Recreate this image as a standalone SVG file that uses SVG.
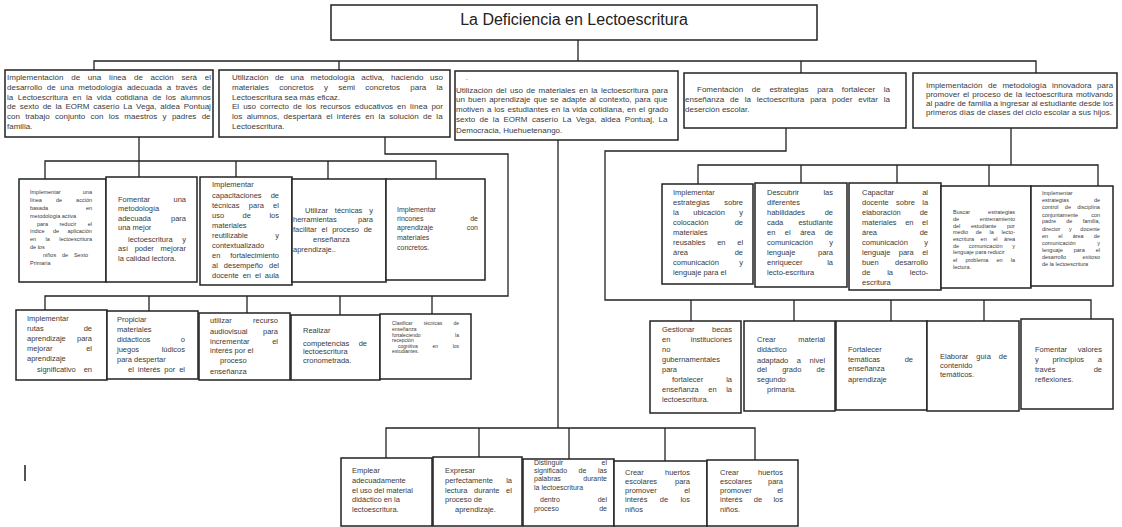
<svg xmlns="http://www.w3.org/2000/svg" width="1122" height="527" viewBox="0 0 1122 527">
<style>
.box{fill:#fff;stroke:#222;stroke-width:1.5}
.c{fill:none;stroke:#222;stroke-width:1.3}
text{font-family:"Liberation Sans",Arial,Helvetica,sans-serif;fill:#3a3a3a}
.ttl{font-size:16px;fill:#222}
.r{text-anchor:end}
.f8{font-size:8px}
.f75{font-size:7.5px}
.f7{font-size:7px}
.f55{font-size:5.5px}
.f5{font-size:5px}
</style>
<rect width="1122" height="527" fill="#fff"/>
<g id="connectors">
<path class="c" d="M578,40 V61"/>
<path class="c" d="M94,70 V61 H1036 V73 M339,61 V70 M801,61 V73"/>
<path class="c" d="M139,137 V177 M45,179 V161 H436 V179 M236,161 V177 M328,161 V179"/>
<path class="c" d="M385,137 V154 H508 V296 H45 V310 M149,296 V311 M247,296 V313 M340,296 V315 M432,296 V314"/>
<path class="c" d="M558,140 V428 M386,458 V428 H755 V460 M479,428 V457 M569,428 V459 M665,428 V461"/>
<path class="c" d="M786,128 V151 H605 V300 H1091 V319 M691,300 V321 M794,300 V321 M891,300 V321 M984,300 V321"/>
<path class="c" d="M1011,128 V165 M698,184 V165 H1098 V186 M801,165 V183 M897,165 V183 M989,165 V186"/>
</g>
<path d="M25,465 V481" stroke="#555" stroke-width="2"/>

<g id="title">
<rect class="box" x="331" y="5" width="486" height="35"/>
<text class="ttl" x="574" y="25" text-anchor="middle">La Deficiencia en Lectoescritura</text>
</g>

<g id="n1" class="f8">
<rect class="box" x="5" y="70" width="208" height="67"/>
<text x="7" y="80" word-spacing="5.5">Implementación de una línea de acción será el</text>
<text x="7" y="90" word-spacing="2.4">desarrollo de una metodología adecuada a través de</text>
<text x="7" y="100" word-spacing="2.3">la Lectoescritura en la vida cotidiana de los alumnos</text>
<text x="7" y="109" word-spacing="1.6">de sexto de la EORM caserío La Vega, aldea Pontuaj</text>
<text x="7" y="119" word-spacing="3.1">con trabajo conjunto con los maestros y padres de</text>
<text x="7" y="129">familia.</text>
</g>

<g id="n2" class="f8">
<rect class="box" x="219" y="70" width="231" height="67"/>
<text x="232" y="80" word-spacing="4.4">Utilización de una metodología activa, haciendo uso</text>
<text x="232" y="90" word-spacing="8">materiales concretos y semi concretos para la</text>
<text x="232" y="100">Lectoescritura sea más eficaz.</text>
<text x="232" y="109" word-spacing="1.8">El uso correcto de los recursos educativos en línea por</text>
<text x="232" y="119" word-spacing="2.2">los alumnos, despertará el interés en la solución de la</text>
<text x="232" y="129">Lectoescritura.</text>
</g>

<g id="n3" class="f8">
<rect class="box" x="455" y="71" width="223" height="69"/>
<text x="466" y="81" class="f5">-</text>
<text x="456" y="92.5" word-spacing="1.2">Utilización del uso de materiales en la lectoescritura para</text>
<text x="456" y="102" word-spacing="1">un buen aprendizaje que se adapte al contexto, para que</text>
<text x="456" y="111.5" word-spacing="0.7">motiven a los estudiantes en la vida cotidiana, en el grado</text>
<text x="456" y="121.5" word-spacing="2.2">sexto de la EORM caserío La Vega, aldea Pontuaj, La</text>
<text x="456" y="133">Democracia, Huehuetenango.</text>
</g>

<g id="n4" class="f8">
<rect class="box" x="684" y="73" width="222" height="55"/>
<text x="697" y="91.5" word-spacing="6.4">Fomentación de estrategias para fortalecer la</text>
<text x="685" y="101.5" word-spacing="3.6">enseñanza de la lectoescritura para poder evitar la</text>
<text x="685" y="111.5">deserción escolar.</text>
</g>

<g id="n5" class="f8">
<rect class="box" x="913" y="73" width="204" height="55"/>
<text x="926" y="87.5" word-spacing="3.3">Implementación de metodología innovadora para</text>
<text x="926" y="97" word-spacing="0.9">promover el proceso de la lectoescritura motivando</text>
<text x="926" y="106">al padre de familia a ingresar al estudiante desde los</text>
<text x="926" y="115">primeros días de clases del ciclo escolar a sus hijos.</text>
</g>

<g id="a1" class="f55">
<rect class="box" x="19" y="179" width="87" height="103"/>
<text x="30" y="194.4">Implementar</text><text class="r" x="92" y="194.4">una</text>
<text x="30" y="202.2" word-spacing="12.5">línea de acción</text>
<text x="30" y="210">basada</text><text class="r" x="92" y="210">en</text>
<text x="30" y="217.8">metodología activa</text>
<text x="37" y="225.6" word-spacing="9.9">para reducir el</text>
<text x="30" y="233.4" word-spacing="6.8">índice de aplicación</text>
<text x="30" y="241.2" word-spacing="7.9">en la lectoescritura</text>
<text x="30" y="249">de los</text>
<text x="43" y="256.8" word-spacing="4.3">niños de Sexto</text>
<text x="30" y="264.6">Primaria</text>
</g>

<g id="a2" class="f75">
<rect class="box" x="106" y="177" width="91" height="105"/>
<text x="118" y="201.7">Fomentar</text><text class="r" x="186" y="201.7">una</text>
<text x="118" y="210.7">metodología</text>
<text x="118" y="220.7">adecuada</text><text class="r" x="186" y="220.7">para</text>
<text x="118" y="229.7">una mejor</text>
<text x="128" y="241.7">lectoescritura</text><text class="r" x="186" y="241.7">y</text>
<text x="118" y="251.4" word-spacing="4.6">así poder mejorar</text>
<text x="118" y="260.7">la calidad lectora.</text>
</g>

<g id="a3" class="f75">
<rect class="box" x="200" y="177" width="92" height="108"/>
<text x="212" y="187.4">Implementar</text>
<text x="212" y="198.1">capacitaciones</text><text class="r" x="279" y="198.1">de</text>
<text x="212" y="208.4" word-spacing="7.2">técnicas para el</text>
<text x="212" y="218.4" word-spacing="16.4">uso de los</text>
<text x="212" y="228.4">materiales</text>
<text x="212" y="238.4">reutilizable</text><text class="r" x="279" y="238.4">y</text>
<text x="212" y="248.1">contextualizado</text>
<text x="212" y="258.4">en</text><text class="r" x="279" y="258.4">fortalecimiento</text>
<text x="212" y="268.4" word-spacing="3.9">al desempeño del</text>
<text x="212" y="278.4" word-spacing="1.9">docente en el aula</text>
</g>

<g id="a4" class="f75">
<rect class="box" x="292" y="179" width="94" height="103"/>
<text x="305" y="213.1" word-spacing="4.8">Utilizar técnicas y</text>
<text x="293" y="222.4">herramientas</text><text class="r" x="373" y="222.4">para</text>
<text x="293" y="231.7" word-spacing="2.7">facilitar el proceso de</text>
<text x="313" y="241.7">enseñanza</text>
<text x="293" y="251.7">aprendizaje..</text>
</g>

<g id="a5" class="f7">
<rect class="box" x="386" y="179" width="99" height="101"/>
<text x="397" y="211.5">Implementar</text>
<text x="397" y="220.5">rincones</text><text class="r" x="478" y="220.5">de</text>
<text x="397" y="229.5">aprendizaje</text><text class="r" x="478" y="229.5">con</text>
<text x="397" y="239.5">materiales</text>
<text x="397" y="249.5">concretos.</text>
</g>

<g id="b1" class="f75">
<rect class="box" x="16" y="310" width="91" height="70"/>
<text x="27" y="320.7">Implementar</text>
<text x="27" y="330.7">rutas</text><text class="r" x="92" y="330.7">de</text>
<text x="27" y="340.7">aprendizaje</text><text class="r" x="92" y="340.7">para</text>
<text x="27" y="350.7">mejorar</text><text class="r" x="92" y="350.7">el</text>
<text x="27" y="361.4">aprendizaje</text>
<text x="37" y="371.7">significativo</text><text class="r" x="92" y="371.7">en</text>
</g>

<g id="b2" class="f75">
<rect class="box" x="107" y="311" width="91" height="68"/>
<text x="117" y="321.7">Propiciar</text>
<text x="117" y="331.7">materiales</text>
<text x="117" y="341.7">didácticos</text><text class="r" x="185" y="341.7">o</text>
<text x="117" y="351.7">juegos</text><text class="r" x="185" y="351.7">lúdicos</text>
<text x="117" y="361.7">para despertar</text>
<text x="128" y="371.7" word-spacing="1.9">el interés por el</text>
</g>

<g id="b3" class="f75">
<rect class="box" x="199" y="313" width="91" height="67"/>
<text x="210" y="323.1">utilizar</text><text class="r" x="278" y="323.1">recurso</text>
<text x="210" y="334.1">audiovisual</text><text class="r" x="278" y="334.1">para</text>
<text x="210" y="344.1">incrementar</text><text class="r" x="278" y="344.1">el</text>
<text x="210" y="353.4">interés por el</text>
<text x="220" y="363.4">proceso</text>
<text x="210" y="374.1">enseñanza</text>
</g>

<g id="b4" class="f75">
<rect class="box" x="291" y="315" width="89" height="65"/>
<text x="303" y="333.4">Realizar</text>
<text x="303" y="345.7">competencias</text><text class="r" x="367" y="345.7">de</text>
<text x="303" y="354.1">lectoescritura</text>
<text x="303" y="363.1">cronometrada.</text>
</g>

<g id="b5" class="f5">
<rect class="box" x="380" y="314" width="91" height="65"/>
<text x="392" y="324.8" word-spacing="9.9">Clasificar técnicas de</text>
<text x="392" y="330.8">enseñanza</text>
<text x="392" y="336.5">fortaleciendo</text><text class="r" x="459" y="336.5">la</text>
<text x="392" y="342">recepción</text>
<text x="398" y="347.5" word-spacing="13.3">cognitiva en los</text>
<text x="392" y="353.2">estudiantes.</text>
</g>

<g id="d1" class="f75">
<rect class="box" x="662" y="184" width="91" height="100"/>
<text x="673" y="194.7">Implementar</text>
<text x="673" y="204.8">estrategias</text><text class="r" x="743" y="204.8">sobre</text>
<text x="673" y="214.8" word-spacing="12.3">la ubicación y</text>
<text x="673" y="224.9">colocación</text><text class="r" x="743" y="224.9">de</text>
<text x="673" y="234.9">materiales</text>
<text x="673" y="245" word-spacing="9.6">reusables en el</text>
<text x="673" y="255">área</text><text class="r" x="743" y="255">de</text>
<text x="673" y="265.1">comunicación</text><text class="r" x="743" y="265.1">y</text>
<text x="673" y="275.1">lenguaje para el</text>
</g>

<g id="d2" class="f75">
<rect class="box" x="755" y="183" width="92" height="104"/>
<text x="767" y="194.7">Descubrir</text><text class="r" x="833" y="194.7">las</text>
<text x="767" y="204.8">diferentes</text>
<text x="767" y="214.8">habilidades</text><text class="r" x="833" y="214.8">de</text>
<text x="767" y="224.9">cada</text><text class="r" x="833" y="224.9">estudiante</text>
<text x="767" y="234.9" word-spacing="7.4">en el área de</text>
<text x="767" y="245">comunicación</text><text class="r" x="833" y="245">y</text>
<text x="767" y="255">lenguaje</text><text class="r" x="833" y="255">para</text>
<text x="767" y="265.1">enriquecer</text><text class="r" x="833" y="265.1">la</text>
<text x="767" y="275.1">lecto-escritura</text>
</g>

<g id="d3" class="f75">
<rect class="box" x="849" y="183" width="92" height="107"/>
<text x="862" y="194.7">Capacitar</text><text class="r" x="928" y="194.7">al</text>
<text x="862" y="204.7" word-spacing="5.3">docente sobre la</text>
<text x="862" y="214.8">elaboración</text><text class="r" x="928" y="214.8">de</text>
<text x="862" y="224.8" word-spacing="6.5">materiales en el</text>
<text x="862" y="234.9">área</text><text class="r" x="928" y="234.9">de</text>
<text x="862" y="244.9">comunicación</text><text class="r" x="928" y="244.9">y</text>
<text x="862" y="255" word-spacing="6.3">lenguaje para el</text>
<text x="862" y="265">buen</text><text class="r" x="928" y="265">desarrollo</text>
<text x="862" y="275.1" word-spacing="14.7">de la lecto-</text>
<text x="862" y="285.1">escritura</text>
</g>

<g id="d4" class="f55">
<rect class="box" x="941" y="186" width="90" height="102"/>
<text x="953" y="214.4">Buscar</text><text class="r" x="1015" y="214.4">estrategias</text>
<text x="953" y="221">de</text><text class="r" x="1015" y="221">entrenamiento</text>
<text x="953" y="227.7" word-spacing="9.1">del estudiante por</text>
<text x="953" y="234.4" word-spacing="6.2">medio de la lecto-</text>
<text x="953" y="241" word-spacing="5">escritura en el área</text>
<text x="953" y="247.7" word-spacing="8.2">de comunicación y</text>
<text x="953" y="254.4">lenguaje para reducir</text>
<text x="953" y="261.7" word-spacing="6.6">el problema en la</text>
<text x="953" y="269">lectura.</text>
</g>

<g id="d5" class="f55">
<rect class="box" x="1031" y="186" width="82" height="100"/>
<text x="1042" y="195">Implementar</text>
<text x="1042" y="202.4">estrategias</text><text class="r" x="1100" y="202.4">de</text>
<text x="1042" y="209" word-spacing="4.8">control de disciplina</text>
<text x="1042" y="216.7">conjuntamente</text><text class="r" x="1100" y="216.7">con</text>
<text x="1042" y="223.4" word-spacing="8.7">padre de familia,</text>
<text x="1042" y="230.7" word-spacing="7.1">director y docente</text>
<text x="1042" y="237.7" word-spacing="8.6">en el área de</text>
<text x="1042" y="245">comunicación</text><text class="r" x="1100" y="245">y</text>
<text x="1042" y="251.7" word-spacing="9.4">lenguaje para el</text>
<text x="1042" y="259">desarrollo</text><text class="r" x="1100" y="259">exitoso</text>
<text x="1042" y="266">de la lectoescritura</text>
</g>

<g id="e1" class="f75">
<rect class="box" x="650" y="321" width="91" height="92"/>
<text x="662" y="332.4">Gestionar</text><text class="r" x="732" y="332.4">becas</text>
<text x="662" y="342.4">en</text><text class="r" x="732" y="342.4">instituciones</text>
<text x="662" y="352.4">no</text>
<text x="662" y="362.4">gubernamentales</text>
<text x="662" y="372.4">para</text>
<text x="672" y="382.4">fortalecer</text><text class="r" x="732" y="382.4">la</text>
<text x="662" y="392.4" word-spacing="7.5">enseñanza en la</text>
<text x="662" y="401.7">lectoescritura.</text>
</g>

<g id="e2" class="f75">
<rect class="box" x="744" y="321" width="91" height="90"/>
<text x="757" y="341.7">Crear</text><text class="r" x="825" y="341.7">material</text>
<text x="757" y="351.7">didáctico</text>
<text x="757" y="363.1" word-spacing="6.5">adaptado a nivel</text>
<text x="757" y="372.4" word-spacing="13.1">del grado de</text>
<text x="757" y="382.4">segundo</text>
<text x="767" y="391.7">primaria.</text>
</g>

<g id="e3" class="f75">
<rect class="box" x="836" y="321" width="91" height="89"/>
<text x="848" y="352.4">Fortalecer</text>
<text x="848" y="361.7">temáticas</text><text class="r" x="913" y="361.7">de</text>
<text x="848" y="370.7">enseñanza</text>
<text x="848" y="381.7">aprendizaje</text>
</g>

<g id="e4" class="f75">
<rect class="box" x="927" y="321" width="92" height="90"/>
<text x="940" y="359.1" word-spacing="5.8">Elaborar guía de</text>
<text x="940" y="368.1">contenido</text>
<text x="940" y="377.4">temáticos.</text>
</g>

<g id="e5" class="f75">
<rect class="box" x="1021" y="319" width="92" height="90"/>
<text x="1035" y="352.4">Fomentar</text><text class="r" x="1102" y="352.4">valores</text>
<text x="1035" y="362.4" word-spacing="11.6">y principios a</text>
<text x="1035" y="372.4">través</text><text class="r" x="1102" y="372.4">de</text>
<text x="1035" y="381.7">reflexiones.</text>
</g>

<g id="c1" class="f75">
<rect class="box" x="341" y="458" width="91" height="68"/>
<text x="352" y="473.1">Emplear</text>
<text x="352" y="483.4">adecuadamente</text>
<text x="352" y="493.1">el uso del material</text>
<text x="352" y="502.4">didáctico en la</text>
<text x="352" y="512.4">lectoescritura.</text>
</g>

<g id="c2" class="f75">
<rect class="box" x="433" y="457" width="89" height="69"/>
<text x="445" y="473.1">Expresar</text>
<text x="445" y="483.4">perfectamente</text><text class="r" x="512" y="483.4">la</text>
<text x="445" y="493.1" word-spacing="4.5">lectura durante el</text>
<text x="445" y="502.4">proceso de</text>
<text x="455" y="512.4">aprendizaje.</text>
</g>

<g id="c3" class="f7">
<rect class="box" x="523" y="459" width="91" height="67"/>
<text x="534" y="464.9">Distinguir</text><text class="r" x="607" y="464.9">el</text>
<text x="534" y="472.9" word-spacing="9.6">significado de las</text>
<text x="534" y="481.2">palabras</text><text class="r" x="607" y="481.2">durante</text>
<text x="534" y="489.5">la lectoescritura</text>
<text x="540" y="501.5">dentro</text><text class="r" x="607" y="501.5">del</text>
<text x="534" y="510.5">proceso</text><text class="r" x="607" y="510.5">de</text>
</g>

<g id="c4" class="f75">
<rect class="box" x="614" y="461" width="93" height="65"/>
<text x="625" y="475.1">Crear</text><text class="r" x="690" y="475.1">huertos</text>
<text x="625" y="484.1">escolares</text><text class="r" x="690" y="484.1">para</text>
<text x="625" y="493.4">promover</text><text class="r" x="690" y="493.4">el</text>
<text x="625" y="502.4" word-spacing="10.2">interés de los</text>
<text x="625" y="511.7">niños</text>
</g>

<g id="c5" class="f75">
<rect class="box" x="707" y="460" width="91" height="66"/>
<text x="720" y="475.1">Crear</text><text class="r" x="783" y="475.1">huertos</text>
<text x="720" y="484.1">escolares</text><text class="r" x="783" y="484.1">para</text>
<text x="720" y="493.4">promover</text><text class="r" x="783" y="493.4">el</text>
<text x="720" y="502.4" word-spacing="9.2">interés de los</text>
<text x="720" y="511.7">niños.</text>
</g>
</svg>
